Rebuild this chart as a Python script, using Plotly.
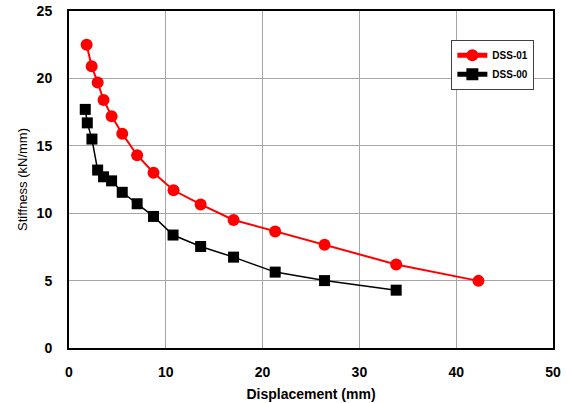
import plotly.graph_objects as go

dss01_x = [1.82, 2.34, 2.96, 3.57, 4.40, 5.5, 7.04, 8.73, 10.8, 13.6, 17.0, 21.3, 26.4, 33.8, 42.3]
dss01_y = [22.5, 20.9, 19.7, 18.4, 17.2, 15.9, 14.3, 13.0, 11.7, 10.65, 9.5, 8.65, 7.66, 6.2, 4.98]
dss00_x = [1.68, 1.89, 2.37, 2.96, 3.57, 4.40, 5.5, 7.04, 8.73, 10.75, 13.6, 17.0, 21.3, 26.4, 33.8]
dss00_y = [17.7, 16.7, 15.5, 13.2, 12.7, 12.4, 11.55, 10.7, 9.76, 8.38, 7.53, 6.74, 5.63, 5.0, 4.29]

fig = go.Figure()
fig.add_trace(go.Scatter(x=dss01_x, y=dss01_y, name="DSS-01", mode="lines+markers",
                         line=dict(color="#ff0000", width=2),
                         marker=dict(symbol="circle", size=12, color="#ff0000")))
fig.add_trace(go.Scatter(x=dss00_x, y=dss00_y, name="DSS-00", mode="lines+markers",
                         line=dict(color="#000000", width=1.5),
                         marker=dict(symbol="square", size=11, color="#000000")))

fig.update_layout(
    width=567, height=403,
    margin=dict(l=69, r=14, t=11, b=55),
    paper_bgcolor="white", plot_bgcolor="white",
    font=dict(family="Liberation Sans, Arial, sans-serif", color="black"),
    showlegend=True,
    legend=dict(x=0.79, y=0.915, xanchor="left", yanchor="top",
                bgcolor="white", bordercolor="#404040", borderwidth=1,
                font=dict(size=10, family="Liberation Sans, Arial", weight="bold"),
                tracegroupgap=0, itemsizing="constant", itemwidth=30),
)
fig.update_xaxes(range=[0, 50], dtick=10, showgrid=True, gridcolor="#a6a6a6", gridwidth=1,
                 showline=True, linecolor="black", linewidth=2, mirror=True, zeroline=False,
                 automargin=False,
                 tickfont=dict(size=14, weight="bold"), ticks="", ticklabelstandoff=10,
                 title=dict(text="Displacement (mm)", font=dict(size=14, weight="bold"), standoff=10))
fig.update_yaxes(range=[0, 25], dtick=5, showgrid=True, gridcolor="#a6a6a6", gridwidth=1,
                 showline=True, linecolor="black", linewidth=2, mirror=True, zeroline=False,
                 automargin=False,
                 tickfont=dict(size=14, weight="bold"), ticks="", ticklabelstandoff=12,
                 title=dict(text="Stiffness (kN/mm)", font=dict(size=13), standoff=6))

fig.write_html("out.html", config={"displayModeBar": False},
               post_script="document.body.style.margin='0';")
